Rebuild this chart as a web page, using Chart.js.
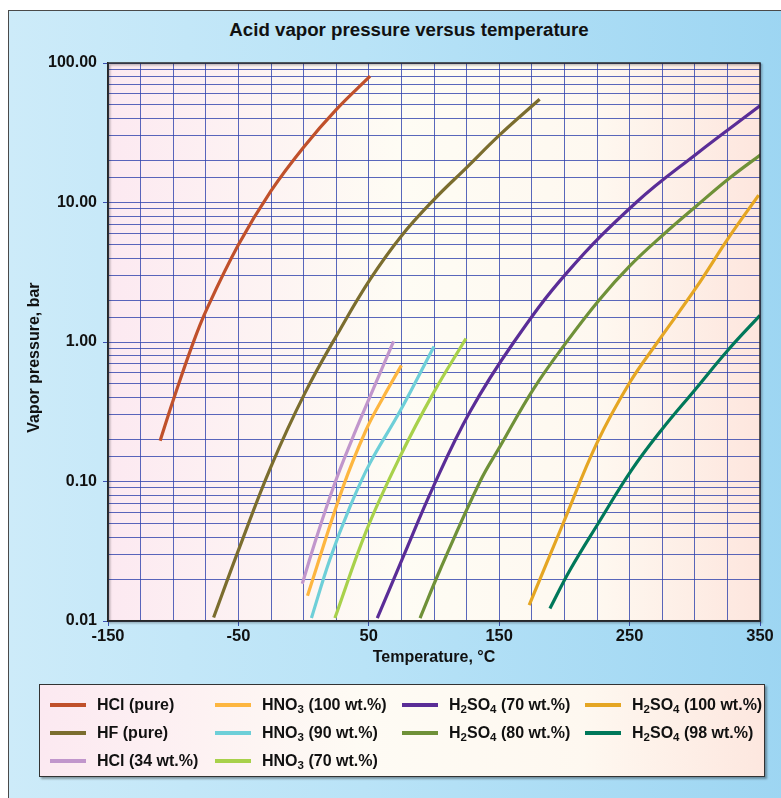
<!DOCTYPE html>
<html>
<head>
<meta charset="utf-8">
<script src="https://cdn.jsdelivr.net/npm/chart.js@4.4.1/dist/chart.umd.min.js"></script>
<style>
  html, body { margin:0; padding:0; background:#fff; width:781px; height:798px; overflow:hidden; }
  body { position:relative; font-family:"Liberation Sans", Arial, Helvetica, sans-serif; }
  #frame { position:absolute; left:8px; top:10px; width:790px; height:800px;
    border-left:1.5px solid #4a4a4a; border-top:1.5px solid #4a4a4a;
    background:linear-gradient(to right, #CDEBF9 0%, #B9E3F7 45%, #9CD5F2 100%); }
  #title { position:absolute; left:159px; width:500px; top:18px; line-height:24px; text-align:center;
    font-weight:bold; font-size:18.7px; color:#111; }
  #wrap { position:absolute; left:0; top:0; width:781px; height:798px; }
  #legend { position:absolute; left:39px; top:684px; width:726px; height:93px;
    border:1.5px solid #333; box-shadow:2px 2px 2px rgba(0,0,0,0.35);
    background:linear-gradient(to right, #FCE9F1 0%, #FEFBF4 45%, #FEF8F0 75%, #FDE7DF 100%);
    display:grid; grid-template-columns:165px 187px 183px 1fr; grid-auto-rows:28px;
    padding:6px 0 0 10px; box-sizing:border-box; }
  .item { display:flex; align-items:center; font-weight:bold; font-size:16px; color:#111; white-space:nowrap; }
  .swatch { display:inline-block; width:36px; height:4px; margin-right:11px; }
  .item sub { font-size:11.5px; vertical-align:-3px; line-height:0; }
</style>
</head>
<body>
<div id="frame"></div>
<div id="title">Acid vapor pressure versus temperature</div>
<div id="wrap"><canvas id="c"></canvas></div>
<div id="legend"></div>
<script>
// ---- Data (temperature °C, vapor pressure bar) ----
const hclPureT   = [-110, -100, -85, -74, -50, -25, 0, 25, 51];
const hclPureP   = [0.196, 0.382, 0.97, 1.74, 4.97, 12.1, 24.9, 46.3, 80.4];

const hfPureT    = [-69, -49, -25, 1, 28, 51, 75, 100, 125, 151, 181];
const hfPureP    = [0.0106, 0.034, 0.128, 0.43, 1.23, 2.81, 5.76, 10.5, 17.8, 30.9, 55];

const hcl34T     = [-1, 10, 24, 37, 51, 69];
const hcl34P     = [0.0185, 0.040, 0.0975, 0.199, 0.407, 1.01];

const hno3_100T  = [3, 30, 48, 61, 75];
const hno3_100P  = [0.0152, 0.09, 0.235, 0.40, 0.68];

const hno3_90T   = [6, 20, 35.6, 51, 74, 100];
const hno3_90P   = [0.0105, 0.0274, 0.066, 0.136, 0.32, 0.93];

const hno3_70T   = [24, 48.4, 74, 99.5, 124.5];
const hno3_70P   = [0.0105, 0.045, 0.151, 0.43, 1.06];

const h2so4_70T  = [56.5, 76.5, 99.5, 127.6, 161.3, 202, 255, 301, 350];
const h2so4_70P  = [0.0105, 0.029, 0.092, 0.316, 1.0, 3.14, 10, 22.2, 49.3];

const h2so4_80T  = [89.3, 104.6, 135.3, 150.6, 176, 202, 227, 250, 276, 301, 326, 351];
const h2so4_80P  = [0.0105, 0.0232, 0.1, 0.178, 0.456, 1.01, 2.02, 3.5, 5.9, 9.4, 14.8, 22.2];

const h2so4_100T = [173, 199, 225, 250, 271.5, 301, 326, 349];
const h2so4_100P = [0.013, 0.05, 0.189, 0.51, 1.0, 2.45, 5.6, 11.3];

const h2so4_98T  = [188.9, 204.3, 226, 251.6, 274.6, 300.2, 325.7, 350];
const h2so4_98P  = [0.0123, 0.0232, 0.0502, 0.121, 0.235, 0.455, 0.88, 1.55];

// legend order (row-major, 4 columns)
const seriesNames = ['HCl (pure)', 'HNO₃ (100 wt.%)', 'H₂SO₄ (70 wt.%)', 'H₂SO₄ (100 wt.%)',
                     'HF (pure)', 'HNO₃ (90 wt.%)', 'H₂SO₄ (80 wt.%)', 'H₂SO₄ (98 wt.%)',
                     'HCl (34 wt.%)', 'HNO₃ (70 wt.%)'];
const seriesT = [hclPureT, hno3_100T, h2so4_70T, h2so4_100T, hfPureT, hno3_90T, h2so4_80T, h2so4_98T, hcl34T, hno3_70T];
const seriesP = [hclPureP, hno3_100P, h2so4_70P, h2so4_100P, hfPureP, hno3_90P, h2so4_80P, h2so4_98P, hcl34P, hno3_70P];
const seriesColors = ['#C0502B', '#FDB640', '#5A2D97', '#E5A623',
                      '#7B6D2E', '#6ECFD8', '#6F9138', '#00785A',
                      '#C196CC', '#A8D14B'];

const xMin = -150, xMax = 350, xStep = 25, xLabelEvery = 100;
const yMin = 0.01, yMax = 100;
const xTitle = 'Temperature, °C';
const yTitle = 'Vapor pressure, bar';

// ---- Chart ----
const FONT = '"Liberation Sans", Arial, Helvetica, sans-serif';
Chart.defaults.font.family = FONT;
const gridColor = 'rgba(48,66,172,0.8)';

const isLabeledX = v => ((v - xMin) % xLabelEvery) === 0;
const isPow10 = v => Math.abs(Math.log10(v) - Math.round(Math.log10(v))) < 1e-9;

const plotBg = {
  id: 'plotBg',
  beforeDraw(chart) {
    const {ctx, chartArea: {left, top, right, bottom}} = chart;
    const g = ctx.createLinearGradient(left, 0, right, 0);
    g.addColorStop(0, '#FCE9F1');
    g.addColorStop(0.45, '#FEFCF4');
    g.addColorStop(0.75, '#FEF8F0');
    g.addColorStop(1, '#FDE6DE');
    ctx.save();
    ctx.fillStyle = g;
    ctx.fillRect(left, top, right - left, bottom - top);
    ctx.restore();
  }
};
const plotBorder = {
  id: 'plotBorder',
  afterDraw(chart) {
    const {ctx, chartArea: {left, top, right, bottom}} = chart;
    ctx.save();
    ctx.shadowColor = 'rgba(0,0,0,0.35)';
    ctx.shadowOffsetX = 1.5; ctx.shadowOffsetY = 1.5; ctx.shadowBlur = 2;
    ctx.strokeStyle = '#2a2a2a';
    ctx.lineWidth = 1.5;
    ctx.strokeRect(left, top, right - left, bottom - top);
    ctx.restore();
  }
};

const datasets = seriesNames.map((name, i) => ({
  label: name,
  data: seriesT[i].map((t, k) => ({x: t, y: seriesP[i][k]})),
  borderColor: seriesColors[i],
  backgroundColor: seriesColors[i],
  borderWidth: 3.2,
  pointRadius: 0,
  tension: 0.4,
  fill: false
}));

new Chart(document.getElementById('c'), {
  type: 'line',
  data: { datasets },
  plugins: [plotBg, plotBorder],
  options: {
    responsive: true,
    maintainAspectRatio: false,
    animation: false,
    layout: { padding: { left: 0, top: 63, right: 21, bottom: 131 } },
    plugins: { legend: { display: false }, title: { display: false }, tooltip: { enabled: false } },
    scales: {
      x: {
        type: 'linear', min: xMin, max: xMax,
        ticks: {
          stepSize: xStep, autoSkip: false, maxRotation: 0, padding: 1,
          color: '#111', font: { size: 16.5, weight: 'bold' },
          callback: v => isLabeledX(v) ? String(v) : ''
        },
        grid: {
          color: gridColor, lineWidth: 1, tickLength: 5,
          tickColor: c => (c.tick && isLabeledX(c.tick.value)) ? '#3a4fb0' : 'rgba(0,0,0,0)'
        },
        border: { display: true, color: '#222', width: 1.5 },
        title: { display: true, text: xTitle, color: '#111', font: { size: 16, weight: 'bold' }, padding: 0 },
        afterFit: s => { s.height = 46; }
      },
      y: {
        type: 'logarithmic', min: yMin, max: yMax,
        ticks: {
          autoSkip: false, padding: 6, color: '#111', font: { size: 16, weight: 'bold' },
          callback: v => isPow10(v) ? Number(v).toFixed(2) : ''
        },
        grid: {
          color: gridColor, lineWidth: 1, tickLength: 5,
          tickColor: c => (c.tick && isPow10(c.tick.value)) ? '#3a4fb0' : 'rgba(0,0,0,0)'
        },
        border: { display: true, color: '#222', width: 1.5 },
        title: { display: true, text: yTitle + '\u00A0'.repeat(7), color: '#111', font: { size: 16, weight: 'bold' }, padding: { top: 25, bottom: 0 } },
        afterFit: s => { s.width = 108; }
      }
    }
  }
});

// ---- HTML legend built from the datasets ----
const legend = document.getElementById('legend');
const subMap = {'₂': '2', '₃': '3', '₄': '4'};
datasets.forEach(ds => {
  const item = document.createElement('div');
  item.className = 'item';
  const sw = document.createElement('span');
  sw.className = 'swatch';
  sw.style.background = ds.borderColor;
  item.appendChild(sw);
  const txt = document.createElement('span');
  txt.innerHTML = ds.label.replace(/[₂₃₄]/g, m => '<sub>' + subMap[m] + '</sub>');
  item.appendChild(txt);
  legend.appendChild(item);
});
</script>
</body>
</html>
